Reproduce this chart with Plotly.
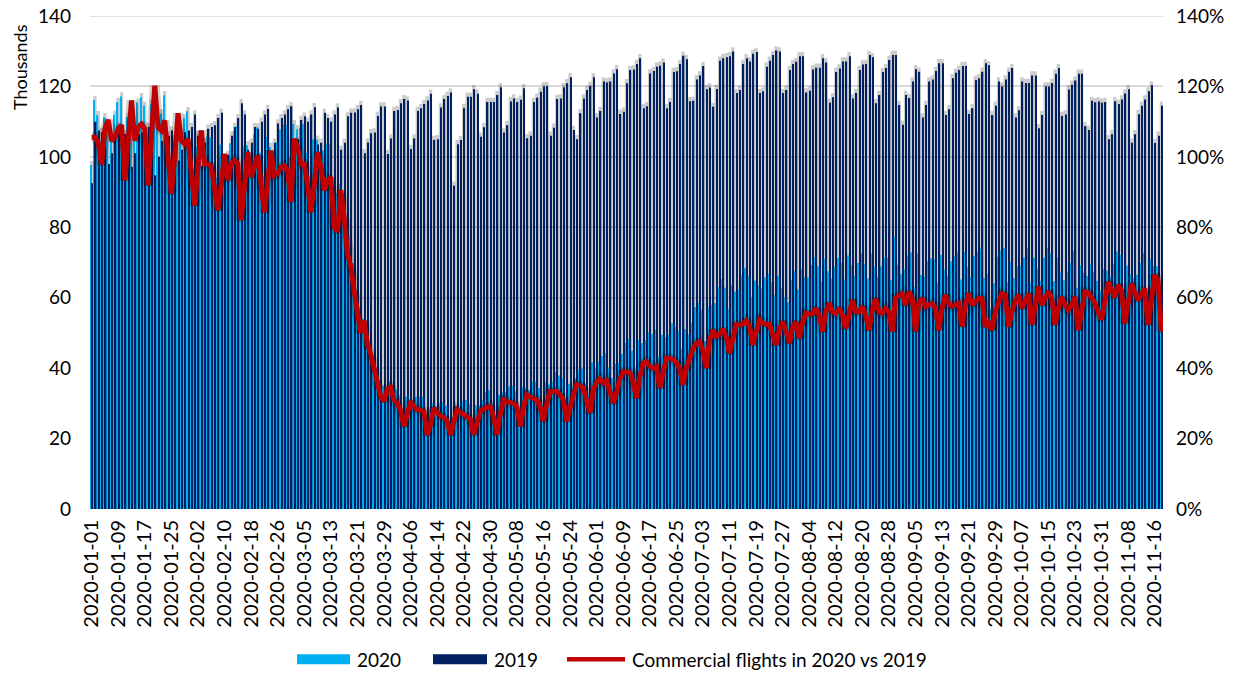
import pandas as pd
import plotly.graph_objects as go

# daily commercial flights, thousands (2019 on the same calendar date)
flights_2019 = [
    92.5, 110, 107.5, 107, 103, 98, 101, 106, 107, 107.5,
    106.5, 106, 97.2, 101, 106.5, 107, 106, 108.5, 108.5, 94.8,
    100, 104.5, 106.5, 106, 107.5, 105, 99, 102, 107, 107.5,
    108.5, 112, 106, 97.5, 104, 108, 108.5, 109, 111, 112.5,
    99, 100.5, 106, 108.5, 111, 115.2, 112, 102, 104, 108.5,
    108, 110, 112, 113.6, 101, 104, 109.5, 111, 112, 113.5,
    114.4, 104, 105, 110.5, 111.5, 110, 112, 114.1, 103.5, 104,
    112.5, 111, 110, 112, 114, 102, 104, 111.5, 112.5, 112.6,
    113.5, 114.7, 101.0, 104.1, 106.7, 106.9, 111.6, 114.3, 114.3, 100.8,
    105.2, 113.0, 113.3, 115.2, 116.4, 116.0, 102.2, 105.2, 113.0, 113.8,
    115.0, 116.0, 117.9, 104.8, 105.0, 114.0, 116.4, 117.3, 118.3, 91.8,
    103.6, 104.8, 113.8, 117.1, 117.1, 119.2, 117.9, 105.7, 108.4, 115.6,
    115.6, 115.6, 117.6, 119.8, 106.9, 109.0, 115.7, 116.6, 115.6, 116.2,
    119.5, 105.3, 106.0, 115.6, 116.8, 118.5, 120.0, 120.1, 106.0, 108.3,
    116.4, 116.6, 119.8, 120.9, 122.6, 107.6, 105.0, 112.4, 116.6, 119.0,
    120.1, 122.6, 111.2, 113.0, 121.4, 121.1, 121.4, 123.7, 124.9, 112.2,
    112.8, 120.9, 124.7, 124.8, 126.4, 128, 113.8, 114.4, 123.7, 124.4,
    125.6, 125.9, 126.8, 113.8, 115.6, 124.1, 124.3, 126.4, 128.7, 127.7,
    115.8, 115.9, 122, 123.1, 125.8, 119.2, 119.7, 114.2, 119.3, 127.3,
    128, 128.3, 128.6, 129.9, 118.1, 119, 126.4, 128, 127.1, 129.3,
    129.8, 118.1, 118.6, 125.6, 127.3, 128.9, 130.2, 129.9, 118.1, 119,
    124.7, 126.4, 127, 128.6, 128.6, 118.3, 118.8, 124.8, 125.3, 125.3,
    128, 126.8, 115.4, 116.9, 124.1, 125.1, 127.1, 127.1, 128.6, 116.6,
    118.1, 124.7, 126.2, 126.4, 128.9, 128.3, 115.2, 117.6, 124.1, 125.2,
    127.5, 128.9, 128.9, 114.7, 109.1, 117.6, 116.7, 121.4, 124.9, 124.2,
    111.2, 114.7, 121.4, 122, 124.4, 126.6, 126.6, 111.9, 113.5, 122.3,
    123.9, 124.7, 125.8, 125.8, 112.2, 113.8, 121.8, 122.3, 124.2, 126.6,
    126, 111.9, 114.5, 121.4, 120, 122, 124.2, 125.2, 111.2, 113.2,
    121.4, 121, 121, 123.1, 123.1, 108.1, 111.9, 120, 120, 121,
    123.6, 125.2, 111.6, 112, 119.1, 120.5, 121.7, 123.6, 123.6, 108.7,
    107.6, 115.9, 115.5, 115.7, 115.4, 115.6, 105, 106.4, 115.8, 115,
    116.3, 118, 119.2, 104, 106.4, 112.1, 114.5, 116.3, 118.6, 120.3,
    103.9, 106, 114.5,
]

# red line: 2020 flights as % of 2019
ratio_pct = [
    105.6, 105.6, 104, 97.8, 108, 110.5, 104.6, 105.6, 108, 109,
    93.3, 105, 116, 104.6, 108.4, 109.3, 108, 91.9, 106, 120.2,
    108.4, 107.5, 110.3, 100, 89.5, 100, 112.4, 104.6, 103.7, 105.1,
    95, 86.2, 97, 107.5, 98, 98, 97.3, 90, 84.8, 92,
    100.8, 93.3, 98, 99, 98, 82, 92, 101.3, 94.2, 98,
    100.4, 92, 84.3, 93, 101.8, 94.7, 95.2, 97.1, 97.5, 96,
    87.2, 105.1, 102.7, 98, 98, 92, 84.3, 92, 101.3, 97.1,
    90.5, 93.3, 94.2, 80.1, 78.7, 90.5, 83, 72.5, 68.8, 62,
    55, 50, 53.5, 47, 44, 40, 35.5, 32, 30.6, 34,
    34.5, 31, 30, 28, 23.5, 27.5, 30.5, 29, 28.2, 28,
    27.7, 21, 24, 28.7, 27.5, 26.3, 26, 25, 21.1, 25,
    28.2, 27.5, 26.8, 26.5, 25.5, 21.1, 25, 27.7, 28.5, 28.7,
    29.2, 26, 21.1, 27, 31, 30.5, 30.1, 30, 29, 23.5,
    29, 32.5, 31.8, 31.3, 31, 29, 24.9, 30, 33.4, 33.4,
    33.4, 32.5, 31, 24.9, 29, 32.5, 35.3, 35, 34.3, 30,
    27.3, 33.9, 36, 37, 35.8, 36.5, 33, 30.1, 33, 37,
    39, 39, 38.8, 36, 31.5, 37.5, 41.4, 41.9, 40.5, 40,
    40.5, 34.3, 39, 42.8, 42.8, 42.5, 41.6, 40, 35.3, 40,
    42.8, 45.5, 47, 47.5, 45, 40, 48, 50.8, 49, 49.5,
    51, 49, 44.2, 49, 52.3, 52.3, 52.5, 53.5, 52, 46.6,
    50, 53.7, 52.8, 52.4, 52.5, 50, 46.6, 51, 53.2, 50.5,
    47.1, 51.5, 53.2, 48.5, 53, 55.6, 55.3, 55.5, 57, 55,
    50.4, 56, 58.5, 56, 55.5, 57, 55, 51.3, 56, 59.3,
    56, 56, 57.5, 55, 50.8, 56.5, 59.8, 56, 55.5, 57,
    56, 50.4, 60, 60.5, 61.1, 57.9, 61.7, 60, 50.4, 58.5,
    59.8, 57.5, 58, 58.4, 57, 50.8, 57, 60.8, 58.4, 57.5,
    58, 58.4, 51.8, 58, 61.2, 57.9, 59, 59.8, 59.8, 51.8,
    53, 50.8, 56, 59, 61.2, 60.8, 51.8, 56, 59, 60.8,
    57, 59, 61.2, 52.3, 58, 63.1, 57.9, 59.5, 61.7, 60,
    52.3, 57, 60.2, 58, 56.5, 58, 60.2, 50.8, 56, 61.7,
    61.5, 60, 58.4, 56, 53.7, 59, 64.5, 62, 60.2, 63.6,
    62, 52.7, 58, 64, 61.5, 59.3, 61, 62.6, 52.3, 59,
    66.4, 65, 50.4,
]

# the red line is 2020 / 2019, so the 2020 bars follow from the two read series
flights_2020 = [round(f * r / 100, 2) for f, r in zip(flights_2019, ratio_pct)]

n = len(flights_2019)
days = list(range(n))
dates = pd.date_range("2020-01-01", periods=n)
tick_days = days[::8]
tick_text = [dates[i].strftime("%Y-%m-%d") for i in tick_days]

C_2020 = "#00B0F0"
C_2019 = "#002060"
C_RED = "#C00000"
C_GRID = "#D9D9D9"
FONT = "Lato, 'Open Sans', sans-serif"

W, H = 1245, 674
# plot area in page pixels (body margin is removed below)
L, R, T, B = 90, 1163, 16, 509.5
Y_MAX = 140


def px(x, y):
    return (x - L) / (R - L), (B - y) / (B - T)


# soft grey halo behind the columns (Excel shadow effect)
halo = [max(a, b) + 1.2 for a, b in zip(flights_2019, flights_2020)]

fig = go.Figure()
fig.add_trace(go.Bar(
    x=days, y=halo, width=1.0, offset=-0.5,
    marker=dict(color="rgba(0,0,0,0.2)", line_width=0),
    hoverinfo="skip", showlegend=False,
))
fig.add_trace(go.Bar(
    x=days, y=flights_2020, width=0.4, offset=-0.42, name="2020",
    marker=dict(color=C_2020, line_width=0), showlegend=False,
))
fig.add_trace(go.Bar(
    x=days, y=flights_2019, width=0.4, offset=0.0, name="2019",
    marker=dict(color=C_2019, line_width=0), showlegend=False,
))
fig.add_trace(go.Scatter(
    x=days, y=ratio_pct, yaxis="y2", mode="lines",
    line=dict(color="rgba(0,0,0,0.18)", width=10),
    hoverinfo="skip", showlegend=False,
))
fig.add_trace(go.Scatter(
    x=days, y=ratio_pct, yaxis="y2", mode="lines",
    name="Commercial flights in 2020 vs 2019",
    line=dict(color=C_RED, width=5), showlegend=False,
))

fig.update_layout(
    width=W, height=H,
    paper_bgcolor="white", plot_bgcolor="white",
    font=dict(family=FONT, color="#000000", size=19),
    margin=dict(l=L, r=W - R, t=T, b=H - B, autoexpand=False),
    barmode="overlay",
    xaxis=dict(
        range=[-0.5, n - 0.5], automargin=False,
        tickmode="array", tickvals=tick_days, ticktext=tick_text,
        tickangle=-90, tickfont=dict(size=20),
        showgrid=False, zeroline=False, showline=False, ticks="",
        ticklabelstandoff=6,
    ),
    yaxis=dict(
        range=[0, Y_MAX], dtick=20, automargin=False,
        gridcolor=C_GRID, gridwidth=1.5,
        zeroline=False, showline=False, ticks="",
        tickfont=dict(size=19), ticklabelstandoff=18,
        ticklabeloverflow="allow",
    ),
    yaxis2=dict(
        range=[0, Y_MAX], dtick=20, ticksuffix="%", automargin=False,
        overlaying="y", side="right",
        showgrid=False, zeroline=False, showline=False, ticks="",
        tickfont=dict(size=19), ticklabelstandoff=12,
        ticklabeloverflow="allow",
    ),
)

# top gridline sits on the plot edge, where plotly leaves it out
fig.add_shape(type="line", xref="paper", yref="y", x0=0, x1=1,
              y0=Y_MAX, y1=Y_MAX, layer="below",
              line=dict(color=C_GRID, width=1.5))

# axis title
tx, ty = px(20, 67)
fig.add_annotation(x=tx, y=ty, xref="paper", yref="paper", text="Thousands",
                   textangle=-90, xanchor="center", yanchor="middle",
                   showarrow=False, font=dict(size=18))

# legend drawn by hand to get Excel's wide swatches
legend_y = 660
items = [
    ("rect", C_2020, 297, 350, "2020"),
    ("rect", C_2019, 433, 487, "2019"),
    ("line", C_RED, 567, 625, "Commercial flights in 2020 vs 2019"),
]
for kind, color, x0, x1, label in items:
    a0, b0 = px(x0, legend_y - 5)
    a1, b1 = px(x1, legend_y + 5)
    if kind == "rect":
        fig.add_shape(type="rect", xref="paper", yref="paper",
                      x0=a0, x1=a1, y0=b0, y1=b1,
                      fillcolor=color, line_width=0)
    else:
        _, bm = px(x0, legend_y)
        fig.add_shape(type="line", xref="paper", yref="paper",
                      x0=a0, x1=a1, y0=bm, y1=bm,
                      line=dict(color=color, width=4.5))
    lx, ly = px(x1 + 5, legend_y)
    fig.add_annotation(x=lx, y=ly, xref="paper", yref="paper", text=label,
                       xanchor="left", yanchor="middle", showarrow=False,
                       font=dict(size=19))

# drop the browser's default 8px body margin so the figure fills the window
fig.write_html("out.html", config={"displayModeBar": False},
               post_script="document.body.style.margin = '0px';")
